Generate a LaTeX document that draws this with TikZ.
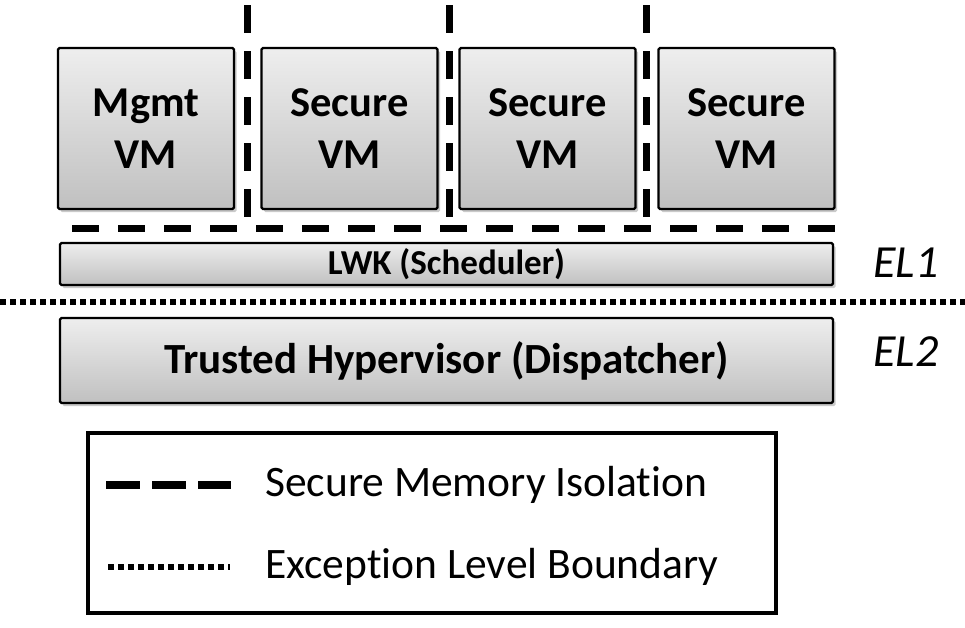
\documentclass[tikz,border=0pt]{standalone}
\usepackage{fontspec}
\setmainfont[Ligatures=NoCommon]{Carlito}
\usetikzlibrary{shadows}
\definecolor{boxtop}{RGB}{238,238,238}
\definecolor{boxbot}{RGB}{192,192,192}
\tikzset{
  layerbox/.style={draw=black, line width=2.2pt, top color=boxtop, bottom color=boxbot,
    rounded corners=1.5pt, inner sep=0pt,
    drop shadow={shadow xshift=2.5pt, shadow yshift=-3pt, fill=black!35, opacity=0.6}},
  vmbox/.style={layerbox, minimum width=176pt, minimum height=161pt, align=center,
    font=\bfseries\fontsize{42.5}{52}\selectfont},
  isoline/.style={line width=7pt, dash pattern=on 27pt off 19pt},
  elline/.style={line width=6pt, dash pattern=on 6pt off 4pt},
  ellabel/.style={font=\itshape\fontsize{46}{52}\selectfont},
  legtext/.style={anchor=west, inner sep=0pt, font=\fontsize{43.5}{50}\selectfont}
}
\begin{document}
\begin{tikzpicture}[x=1pt, y=-1pt]
\useasboundingbox (0,0) rectangle (965,627);

% virtual machines
\node[vmbox] (mgmt) at (146,128.5) {Mgmt\\VM};
\node[vmbox] (sa) at (349.5,128.5) {Secure\\VM};
\node[vmbox] (sb) at (547.5,128.5) {Secure\\VM};
\node[vmbox] (sc) at (746.5,128.5) {Secure\\VM};

% kernel and hypervisor layers
\node[layerbox, minimum width=773pt, minimum height=42pt,
  font=\bfseries\fontsize{35}{40}\selectfont] (lwk) at (446.5,264) {LWK (Scheduler)};
\node[layerbox, minimum width=773pt, minimum height=85pt,
  font=\bfseries\fontsize{43}{50}\selectfont] (hyp) at (446.5,360.5) {Trusted Hypervisor (Dispatcher)};

% exception levels
\node[ellabel] (el1) at (906,263) {EL1};
\node[ellabel] (el2) at (906,352) {EL2};

% memory isolation boundaries
\coordinate (va1) at (247,5);   \coordinate (vb1) at (247,218);
\coordinate (va2) at (449,5);   \coordinate (vb2) at (449,218);
\coordinate (va3) at (646,5);   \coordinate (vb3) at (646,218);
\coordinate (ha) at (72,228);   \coordinate (hb) at (840,228);
\draw[isoline, dash pattern=on 28pt off 18pt] (va1) -- (vb1);
\draw[isoline, dash pattern=on 28pt off 18pt] (va2) -- (vb2);
\draw[isoline, dash pattern=on 28pt off 18pt] (va3) -- (vb3);
\draw[isoline] (ha) -- (hb);

% exception level boundary
\coordinate (da) at (0,302);  \coordinate (db) at (965,302);
\draw[elline] (da) -- (db);

% legend
\node[draw=black, line width=4pt, minimum width=688pt, minimum height=180pt,
  inner sep=0pt] (legend) at (431.5,523) {};
\coordinate (lda) at (106,485); \coordinate (ldb) at (231,485);
\draw[line width=8pt, dash pattern=on 34pt off 12pt] (lda) -- (ldb);
\node[legtext] (lsmi) at (265,485) {Secure Memory Isolation};
\coordinate (lea) at (108,567); \coordinate (leb) at (230,567);
\draw[elline] (lea) -- (leb);
\node[legtext] (lelb) at (265,567) {Exception Level Boundary};
\end{tikzpicture}
\end{document}
